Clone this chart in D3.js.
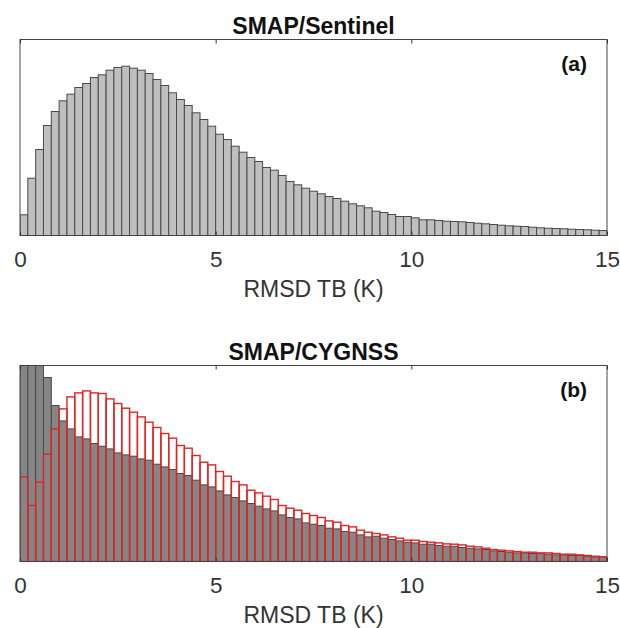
<!DOCTYPE html>
<html>
<head>
<meta charset="utf-8">
<script src="https://cdn.jsdelivr.net/npm/d3@7"></script>
<style>
  html, body { margin: 0; padding: 0; background: #fff; }
  svg { display: block; }
  text { font-family: "Liberation Sans", Arial, sans-serif; }
</style>
</head>
<body>
<div id="chart"></div>
<script>
// ---- data (bin width 0.2 K, bins from 0 to 15 K) ----
const binWidth = 0.2;
const xTicks = [0, 5, 10, 15];
const xLabel = "RMSD TB (K)";
const titles = ["SMAP/Sentinel", "SMAP/CYGNSS"];
const panelTags = ["(a)", "(b)"];

// relative frequency (arbitrary units, axis top = 196)
const sentinel = [20.7, 57.3, 86, 110, 124, 134.7, 141.3, 148, 152, 158, 160.7, 165.3, 168, 169.3, 167.3, 165.3, 162, 156, 150, 142.7,
  136, 130, 122.7, 116, 109.3, 101.3, 96, 89.3, 83.3, 78, 74, 68, 65.3, 60, 54, 50.7, 47.3, 44.3, 41.7, 39,
  37, 34.3, 31.7, 29.7, 27.7, 24.3, 23, 21, 19, 19, 17.7, 15.7, 15.7, 15, 14.3, 14, 13.7, 13, 12.3, 11.7,
  11, 10.3, 9.7, 9.3, 9, 8.3, 7.7, 7.3, 7, 6.7, 6.3, 6, 5.7, 5.3, 5];

const cygnssGray = [300, 290, 260, 184, 156, 140.6, 132.6, 124.6, 122.6, 118, 115.3, 112.6, 108.6, 106.6, 105.3, 102.6, 101.3, 97.3, 94.6, 92,
  88, 86, 81.3, 76.6, 74.6, 70.6, 66.6, 64, 60.6, 58, 55.3, 52.6, 50.6, 46.6, 44, 42.6, 38.6, 37.3, 36, 33.3,
  32.6, 30, 29.3, 26.6, 24.6, 25.3, 23.3, 22, 20.6, 19.3, 18.6, 17.3, 17.3, 16, 15.3, 15.3, 14, 13.3, 12.6, 12,
  10.6, 10, 9.3, 8.6, 8.6, 8, 8, 7.3, 6.6, 6.6, 6, 6, 5.3, 4.6, 4.6];

const cygnssRed = [84.6, 56, 79.3, 107.3, 132.6, 152.6, 164.6, 168.6, 170.6, 168.6, 168, 162.6, 158, 153.3, 149.3, 144.6, 139.3, 134, 128, 123.3,
  116, 113.3, 106, 99.3, 96.6, 90, 85.3, 80, 76.6, 71.3, 68.6, 65.3, 62, 56, 53.3, 51.3, 48, 46, 44, 40.6,
  39.3, 36, 34.6, 31.3, 29.3, 28, 26.6, 24.6, 23.3, 21.3, 21.3, 20, 19.3, 18.6, 17.6, 17.3, 16.6, 15.3, 14.6, 13.3,
  12, 11.3, 10.6, 10, 9.3, 9.3, 8.6, 8.6, 8, 7.3, 7.3, 6.6, 6, 5.3, 4.6];

const yMax = 196;

// ---- drawing ----
const W = 620, H = 628;
const svg = d3.select("#chart").append("svg").attr("width", W).attr("height", H);

const x = d3.scaleLinear().domain([0, 15]).range([20, 607]);

const panels = [
  { top: 39.5, bottom: 235.5, series: [{ values: sentinel, fill: "#bfbfbf", stroke: "#4a4a4a", sw: 1 }] },
  { top: 365.5, bottom: 561.5, series: [
      { values: cygnssGray, fill: "#858585", stroke: "#4a4a4a", sw: 1 },
      { values: cygnssRed, fill: "none", stroke: "#e02424", sw: 1.4 }
  ] }
];

panels.forEach((p, pi) => {
  const y = d3.scaleLinear().domain([0, yMax]).range([p.bottom, p.top]);
  const g = svg.append("g");
  const clipId = "clip" + pi;
  svg.append("clipPath").attr("id", clipId).append("rect")
    .attr("x", x(0)).attr("y", p.top).attr("width", x(15) - x(0)).attr("height", p.bottom - p.top);

  const plot = g.append("g").attr("clip-path", `url(#${clipId})`);
  p.series.forEach(s => {
    plot.append("g").selectAll("rect").data(s.values).join("rect")
      .attr("x", (d, i) => x(i * binWidth))
      .attr("width", (d, i) => x((i + 1) * binWidth) - x(i * binWidth))
      .attr("y", d => y(d))
      .attr("height", d => y(0) - y(d))
      .attr("fill", s.fill)
      .attr("stroke", s.stroke)
      .attr("stroke-width", s.sw);
  });

  // box
  g.append("rect")
    .attr("x", x(0)).attr("y", p.top)
    .attr("width", x(15) - x(0)).attr("height", p.bottom - p.top)
    .attr("fill", "none").attr("stroke", "#444").attr("stroke-width", 1);

  // bottom axis (ticks inside)
  const ax = g.append("g").attr("transform", `translate(0,${p.bottom})`)
    .call(d3.axisBottom(x).tickValues(xTicks).tickSizeInner(-4).tickSizeOuter(0).tickPadding(16).tickFormat(d3.format("d")));
  ax.select(".domain").remove();
  ax.selectAll(".tick line").attr("stroke", "#333");
  ax.selectAll(".tick text").attr("font-size", 22.5).attr("fill", "#333")
    .attr("font-family", "\"Liberation Sans\", Arial, sans-serif");

  // top ticks
  const axT = g.append("g").attr("transform", `translate(0,${p.top})`)
    .call(d3.axisTop(x).tickValues(xTicks).tickSizeInner(-4).tickSizeOuter(0).tickFormat(""));
  axT.select(".domain").remove();
  axT.selectAll(".tick line").attr("stroke", "#333");

  // x label
  g.append("text")
    .attr("x", (x(0) + x(15)) / 2).attr("y", p.bottom + 61.5)
    .attr("text-anchor", "middle").attr("font-size", 23).attr("fill", "#333")
    .text(xLabel);

  // title
  g.append("text")
    .attr("x", (x(0) + x(15)) / 2).attr("y", p.top - 6)
    .attr("text-anchor", "middle").attr("font-size", 23).attr("font-weight", "bold").attr("fill", "#111")
    .text(titles[pi]);

  // panel tag
  g.append("text")
    .attr("x", 587).attr("y", p.top + 31)
    .attr("text-anchor", "end").attr("font-size", 21).attr("font-weight", "bold").attr("fill", "#111")
    .text(panelTags[pi]);
});
</script>
</body>
</html>
